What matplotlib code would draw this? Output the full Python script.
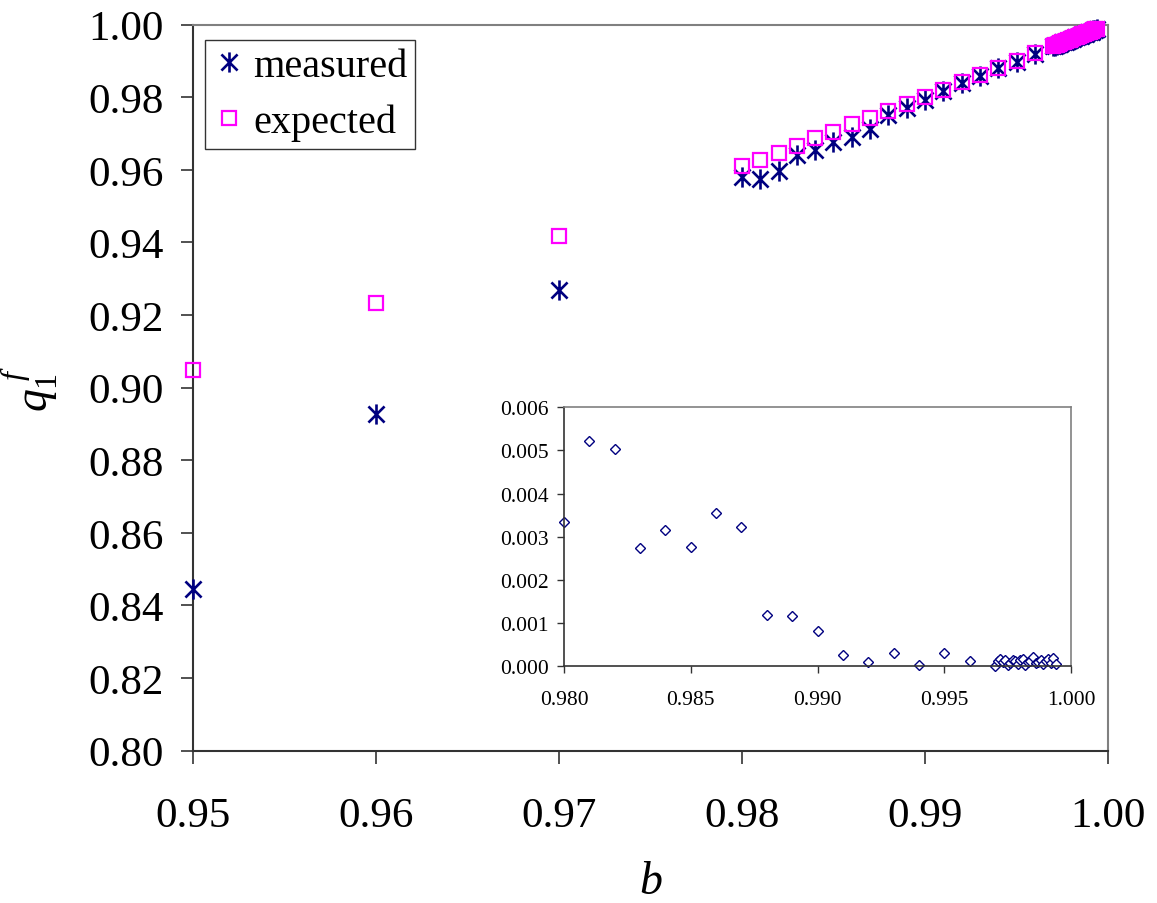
import matplotlib
matplotlib.use("Agg")
import matplotlib.pyplot as plt
from matplotlib.path import Path

plt.rcParams['font.family'] = ['Liberation Serif', 'DejaVu Serif']
plt.rcParams['mathtext.fontset'] = 'custom'
plt.rcParams['mathtext.rm'] = 'Liberation Serif'
plt.rcParams['mathtext.it'] = 'Liberation Serif:italic'

# ---- data ----
b = [0.950, 0.960, 0.970,
     0.980, 0.981, 0.982, 0.983, 0.984, 0.985, 0.986, 0.987, 0.988, 0.989,
     0.990, 0.991, 0.992, 0.993, 0.994, 0.995, 0.996,
     0.9970, 0.9971, 0.9972, 0.9973, 0.9974, 0.9975, 0.9976, 0.9977, 0.9978,
     0.9979, 0.9980, 0.9981, 0.9982, 0.9983, 0.9984, 0.9985, 0.9986, 0.9987,
     0.9988, 0.9989, 0.9990, 0.9991, 0.9992, 0.9993, 0.9994]

expected = [0.9048, 0.9233, 0.9418,
            0.9612, 0.9628, 0.9647, 0.9667, 0.9687, 0.9705, 0.9726, 0.9744,
            0.9762, 0.9782, 0.9801, 0.9821, 0.9841, 0.9861, 0.9881, 0.9901,
            0.9921,
            0.9941, 0.9943, 0.9945, 0.9947, 0.9949, 0.9951, 0.9953, 0.9955,
            0.9957, 0.9959, 0.9961, 0.9963, 0.9965, 0.9967, 0.9969, 0.9971,
            0.9973, 0.9975, 0.9977, 0.9979, 0.9981, 0.9983, 0.9985, 0.9987,
            0.9989]

measured = [0.8445, 0.8928, 0.9269,
            0.9579, 0.9576, 0.9597, 0.9640, 0.9656, 0.9678, 0.9690, 0.9712,
            0.9750, 0.9770, 0.9793, 0.9818, 0.9840, 0.9858, 0.9881, 0.9898,
            0.9920,
            0.9941, 0.9942, 0.9943, 0.9946, 0.9948, 0.9951, 0.9952, 0.9953,
            0.9956, 0.9959, 0.9960, 0.9961, 0.9965, 0.9966, 0.9968, 0.9969,
            0.9972, 0.9974, 0.9975, 0.9979, 0.9980, 0.9981, 0.9984, 0.9985,
            0.9989]

inset_b = b[3:]
inset_diff = [0.00333, 0.00523, 0.00503, 0.00274, 0.00315, 0.00275, 0.00355,
              0.00322, 0.00118, 0.00116, 0.00080, 0.00025, 0.00009, 0.00029,
              0.00002, 0.00029, 0.00012,
              0.00000, 0.00012, 0.00016, 0.00010, 0.00014, 0.00003, 0.00008,
              0.00015, 0.00011, 0.00005, 0.00013, 0.00017, 0.00002, 0.00009,
              0.00012, 0.00020, 0.00006, 0.00010, 0.00014, 0.00004, 0.00011,
              0.00016, 0.00008, 0.00019, 0.00005]

main_yticks = [0.80, 0.82, 0.84, 0.86, 0.88, 0.90, 0.92, 0.94, 0.96, 0.98, 1.00]
main_xticks = [0.95, 0.96, 0.97, 0.98, 0.99, 1.00]
inset_yticks = [0.000, 0.001, 0.002, 0.003, 0.004, 0.005, 0.006]
inset_xticks = [0.980, 0.985, 0.990, 0.995, 1.000]

navy = '#000080'
magenta = '#ff00ff'
gray = '#808080'

# Excel-like asterisk: vertical line + X
star = Path([(0, -1), (0, 1), (-0.8, -0.8), (0.8, 0.8), (-0.8, 0.8), (0.8, -0.8)],
            [Path.MOVETO, Path.LINETO, Path.MOVETO, Path.LINETO, Path.MOVETO, Path.LINETO])

fig = plt.figure(figsize=(11.57, 9.04), dpi=100)
ax = fig.add_axes([0.1666, 0.1685, 0.9577 - 0.1666, 0.9716 - 0.1685])

ax.plot(b, measured, linestyle='none', marker=star, markersize=14.5,
        markeredgecolor=navy, markerfacecolor='none', markeredgewidth=1.9,
        label='measured', zorder=3, clip_on=False)
ax.plot(b, expected, linestyle='none', marker='s', markersize=10.5,
        markeredgecolor=magenta, markerfacecolor='none', markeredgewidth=1.6,
        label='expected', zorder=4, clip_on=False)

ax.set_xlim(0.95, 1.00)
ax.set_ylim(0.80, 1.00)
ax.set_xticks(main_xticks)
ax.set_yticks(main_yticks)
ax.set_xticklabels([f'{v:.2f}' for v in main_xticks])
ax.set_yticklabels([f'{v:.2f}' for v in main_yticks])
ax.tick_params(axis='both', direction='out', length=9, width=1.2, labelsize=31,
               color='#333333')
ax.tick_params(axis='x', pad=24)
ax.tick_params(axis='y', pad=12)
for s in ['left', 'bottom']:
    ax.spines[s].set_color('#333333')
    ax.spines[s].set_linewidth(1.5)
for s in ['top', 'right']:
    ax.spines[s].set_color(gray)
    ax.spines[s].set_linewidth(1.5)
ax.set_xlabel(r'$b$', fontsize=33, labelpad=18)
ax.set_ylabel(r'$q_{\mathit{1}}^{\;f}$', fontsize=33, labelpad=20)

leg = ax.legend(loc='upper left', bbox_to_anchor=(0.013, 0.979), fontsize=29,
                frameon=True, fancybox=False, edgecolor='black',
                handlelength=0.8, handletextpad=0.2, borderpad=0.2,
                labelspacing=0.45, borderaxespad=0)
leg.get_frame().set_linewidth(1.0)

# ---- inset ----
ins = fig.add_axes([0.4875, 0.2622, 0.9257 - 0.4875, 0.5483 - 0.2622])
ins.plot(inset_b, inset_diff, linestyle='none', marker='D', markersize=5,
         markeredgecolor=navy, markerfacecolor='white', markeredgewidth=1.0,
         clip_on=False)
ins.set_xlim(0.980, 1.000)
ins.set_ylim(0.000, 0.006)
ins.set_xticks(inset_xticks)
ins.set_yticks(inset_yticks)
ins.set_xticklabels([f'{v:.3f}' for v in inset_xticks])
ins.set_yticklabels([f'{v:.3f}' for v in inset_yticks])
ins.tick_params(axis='both', direction='out', length=5, width=1.0, labelsize=15.5,
                color='#333333')
ins.tick_params(axis='x', pad=12)
ins.tick_params(axis='y', pad=6)
for s in ['left', 'bottom']:
    ins.spines[s].set_color('#333333')
    ins.spines[s].set_linewidth(1.2)
for s in ['top', 'right']:
    ins.spines[s].set_color(gray)
    ins.spines[s].set_linewidth(1.2)

fig.savefig('out.png', dpi=100)
